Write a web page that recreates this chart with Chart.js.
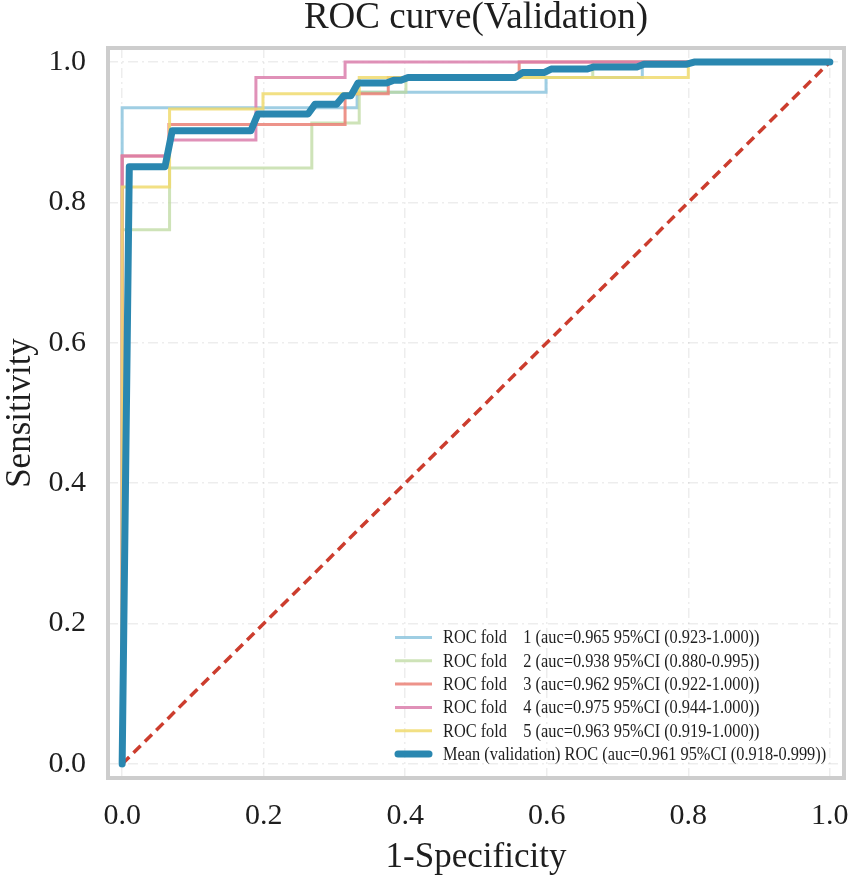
<!DOCTYPE html>
<html>
<head>
<meta charset="utf-8">
<script src="https://cdn.jsdelivr.net/npm/chart.js@4.4.1/dist/chart.umd.min.js"></script>
<style>
  html, body { margin: 0; padding: 0; background: #fff; }
  #wrap { width: 851px; height: 880px; }
</style>
</head>
<body>
<div id="wrap"><canvas id="roc"></canvas></div>
<script>
// values (false positive rate / true positive rate)
const fold1Fpr = [0, 0, 0.332, 0.332, 0.599, 0.599, 0.735, 0.735, 1];
const fold1Tpr = [0, 0.935, 0.935, 0.957, 0.957, 0.978, 0.978, 1, 1];

const fold2Fpr = [0, 0, 0.067, 0.067, 0.268, 0.268, 0.335, 0.335, 0.401, 0.401, 0.665, 0.665, 1];
const fold2Tpr = [0, 0.761, 0.761, 0.849, 0.849, 0.913, 0.913, 0.957, 0.957, 0.978, 0.978, 1, 1];

const fold3Fpr = [0, 0, 0.066, 0.066, 0.315, 0.315, 0.376, 0.376, 0.561, 0.561, 1];
const fold3Tpr = [0, 0.866, 0.866, 0.911, 0.911, 0.955, 0.955, 0.978, 0.978, 1, 1];

const fold4Fpr = [0, 0, 0.066, 0.066, 0.189, 0.189, 0.315, 0.315, 1];
const fold4Tpr = [0, 0.866, 0.866, 0.889, 0.889, 0.978, 0.978, 1, 1];

const fold5Fpr = [0, 0, 0.067, 0.067, 0.199, 0.199, 0.335, 0.335, 0.80, 0.80, 1];
const fold5Tpr = [0, 0.822, 0.822, 0.933, 0.933, 0.955, 0.955, 0.978, 0.978, 1, 1];

const meanFpr = [0, 0.0101, 0.0606, 0.0707, 0.1818, 0.1919, 0.2626, 0.2727, 0.303, 0.3131,
                 0.3232, 0.3333, 0.3737, 0.3838, 0.3939, 0.404, 0.5556, 0.5657, 0.596, 0.6061,
                 0.6566, 0.6667, 0.7273, 0.7374, 0.798, 0.8081, 1];
const meanTpr = [0, 0.851, 0.851, 0.902, 0.902, 0.926, 0.926, 0.940, 0.940, 0.952,
                 0.952, 0.970, 0.970, 0.974, 0.974, 0.978, 0.978, 0.985, 0.985, 0.990,
                 0.990, 0.993, 0.993, 0.997, 0.997, 1, 1];

const chanceFpr = [0, 1];
const chanceTpr = [0, 1];

const legendLabels = [
  'ROC fold    1 (auc=0.965 95%CI (0.923-1.000))',
  'ROC fold    2 (auc=0.938 95%CI (0.880-0.995))',
  'ROC fold    3 (auc=0.962 95%CI (0.922-1.000))',
  'ROC fold    4 (auc=0.975 95%CI (0.944-1.000))',
  'ROC fold    5 (auc=0.963 95%CI (0.919-1.000))',
  'Mean (validation) ROC (auc=0.961 95%CI (0.918-0.999))'
];

const tickValues = [0, 0.2, 0.4, 0.6, 0.8, 1.0];

const serif = "'Liberation Serif', 'Times New Roman', serif";

function pts(xs, ys) {
  return xs.map((x, i) => ({ x: x, y: ys[i] }));
}

function foldSet(i, xs, ys, color) {
  return {
    label: legendLabels[i],
    data: pts(xs, ys),
    borderColor: color,
    borderWidth: 3,
    order: 7 - i,
    inLegend: true
  };
}

const datasets = [
  foldSet(0, fold1Fpr, fold1Tpr, 'rgba(142,198,222,0.85)'),
  foldSet(1, fold2Fpr, fold2Tpr, 'rgba(190,218,160,0.75)'),
  foldSet(2, fold3Fpr, fold3Tpr, 'rgba(234,128,118,0.85)'),
  foldSet(3, fold4Fpr, fold4Tpr, 'rgba(218,126,172,0.85)'),
  foldSet(4, fold5Fpr, fold5Tpr, 'rgba(240,218,110,0.85)'),
  {
    label: 'chance',
    data: pts(chanceFpr, chanceTpr),
    borderColor: '#cc3d2e',
    borderWidth: 3.5,
    borderDash: [10, 6],
    order: 1
  },
  {
    label: legendLabels[5],
    data: pts(meanFpr, meanTpr),
    borderColor: '#2a87b0',
    borderWidth: 7,
    borderCapStyle: 'round',
    borderJoinStyle: 'round',
    order: 0,
    inLegend: true
  }
];

// grey frame round the plot area
const framePlugin = {
  id: 'frame',
  beforeDatasetsDraw(chart) {
    const a = chart.chartArea, c = chart.ctx;
    c.save();
    c.strokeStyle = '#cdcdcd';
    c.lineWidth = 4;
    c.strokeRect(a.left, a.top, a.right - a.left, a.bottom - a.top);
    c.restore();
  }
};

// legend inside the lower right of the plot
const legendPlugin = {
  id: 'innerLegend',
  afterDatasetsDraw(chart) {
    const c = chart.ctx, a = chart.chartArea;
    const items = chart.data.datasets.filter(d => d.inLegend);
    const x0 = a.left + 287, rowH = 23.3;
    let y = a.bottom - 24 - rowH * (items.length - 1);
    c.save();
    c.textBaseline = 'middle';
    c.textAlign = 'left';
    for (const d of items) {
      const thick = d.borderWidth > 4;
      c.strokeStyle = d.borderColor;
      c.lineWidth = d.borderWidth;
      c.lineCap = thick ? 'round' : 'butt';
      c.beginPath();
      c.moveTo(x0 + (thick ? 3 : 0), y);
      c.lineTo(x0 + 37 - (thick ? 3 : 0), y);
      c.stroke();
      c.save();
      c.translate(x0 + 48, y + 1);
      c.scale(0.86, 1);
      c.font = '19px ' + serif;
      c.fillStyle = '#1e1e1e';
      c.fillText(d.label, 0, 0);
      c.restore();
      y += rowH;
    }
    c.restore();
  }
};

const gridOpts = {
  color: 'rgba(0,0,0,0.07)',
  lineWidth: 1.5,
  drawTicks: false
};

new Chart(document.getElementById('roc'), {
  type: 'line',
  data: { datasets: datasets },
  options: {
    responsive: true,
    maintainAspectRatio: false,
    animation: false,
    elements: {
      point: { radius: 0 },
      line: { tension: 0, fill: false }
    },
    layout: { padding: { right: 7, left: 0, top: 0, bottom: 0 } },
    plugins: {
      legend: { display: false },
      tooltip: { enabled: false },
      title: {
        display: true,
        text: 'ROC curve(Validation)',
        fullSize: false,
        color: '#1e1e1e',
        font: { family: serif, size: 37, weight: 'normal', lineHeight: 1.0 },
        padding: { top: 0, bottom: 11 }
      }
    },
    scales: {
      x: {
        type: 'linear',
        min: -0.02,
        max: 1.02,
        afterBuildTicks(s) { s.ticks = tickValues.map(v => ({ value: v })); },
        afterFit(s) { s.height = 102; s.paddingLeft = 0; s.paddingRight = 0; },
        grid: gridOpts,
        border: { display: false, dash: [10, 4, 2, 4] },
        ticks: {
          padding: 20,
          color: '#1e1e1e',
          font: { family: serif, size: 30 },
          callback: v => v.toFixed(1),
          maxRotation: 0
        },
        title: {
          display: true,
          text: '1-Specificity',
          color: '#1e1e1e',
          font: { family: serif, size: 35 },
          padding: { top: 0, bottom: 1 }
        }
      },
      y: {
        type: 'linear',
        min: -0.02,
        max: 1.02,
        afterBuildTicks(s) { s.ticks = tickValues.map(v => ({ value: v })); },
        afterFit(s) { s.width = 108; s.paddingTop = 0; s.paddingBottom = 0; },
        grid: gridOpts,
        border: { display: false, dash: [10, 4, 2, 4] },
        ticks: {
          padding: 22,
          color: '#1e1e1e',
          font: { family: serif, size: 30 },
          callback: v => v.toFixed(1)
        },
        title: {
          display: true,
          text: 'Sensitivity',
          color: '#1e1e1e',
          font: { family: serif, size: 35 },
          padding: { top: 0, bottom: 0 }
        }
      }
    }
  },
  plugins: [framePlugin, legendPlugin]
});
</script>
</body>
</html>
